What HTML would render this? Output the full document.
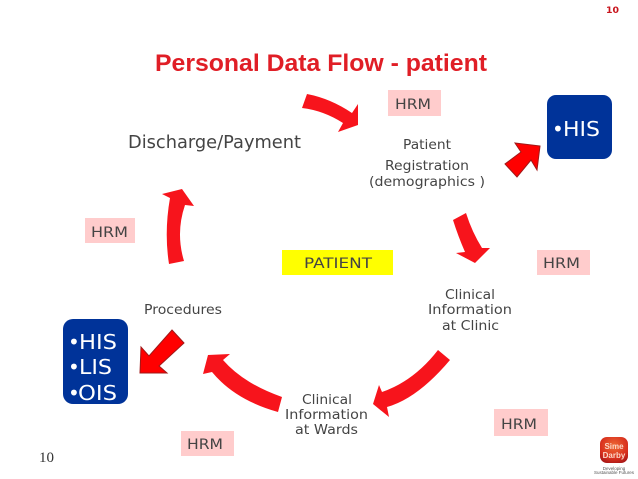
<!DOCTYPE html>
<html>
<head>
<meta charset="utf-8">
<style>
html,body{margin:0;padding:0;background:#fff;width:638px;height:479px;overflow:hidden}
svg{display:block}
.v{font-family:"DejaVu Sans","Liberation Sans",sans-serif;fill:#444}
.w{font-family:"DejaVu Sans","Liberation Sans",sans-serif;fill:#fff;font-size:20px}
.a{fill:#f7141c}
.d{fill:#f00;stroke:#a01818;stroke-width:1}
</style>
</head>
<body>
<svg width="638" height="479" viewBox="0 0 638 479" xmlns="http://www.w3.org/2000/svg">
<defs>
<radialGradient id="lg" cx="50%" cy="35%" r="70%"><stop offset="0" stop-color="#ee6a35"/><stop offset="0.7" stop-color="#d8301e"/><stop offset="1" stop-color="#a81818"/></radialGradient>
</defs>
<text x="606" y="13" font-family="'DejaVu Sans',sans-serif" font-weight="bold" font-size="9" fill="#c8141c" textLength="13" lengthAdjust="spacingAndGlyphs">10</text>
<text x="155" y="71" font-family="'Liberation Sans',sans-serif" font-weight="bold" font-size="24" fill="#e01e26" textLength="332" lengthAdjust="spacingAndGlyphs">Personal Data Flow - patient</text>

<path class="a" d="M307 94 Q330.5 98.5 352 113 L358 104 L358 125 L338 132 L343 123 Q323.5 110.5 302 108Z"/>
<path class="d" d="M540 146 L515 143 L521 152 L505 164 L517 177 L531 160 L537 170Z"/>
<path class="a" d="M453 220 L466 213 Q472 232 482 248 L490 248 L475 263 L456 253 L465 252 Q458 236 453 220Z"/>
<path class="a" d="M438 350 L450 360 Q417.5 398.5 387 407 L389 417 L373 404 L379 385 L382 392 Q414 381 438 350Z"/>
<path class="a" d="M282 397 L278 412 Q235 400 212 372 L203 374 L208 355 L230 354 L223 360 Q243.5 383.5 282 397Z"/>
<path class="d" d="M172 330 L184 343 L159 366 L167 373 L140 373 L141 347 L149 356Z"/>
<path class="a" d="M182 189 L194 206 L185 205 Q175.5 233 184 261 L169 264 Q164 232 170 198 L162 194Z"/>

<rect x="388" y="90" width="53" height="26" fill="#ffcccc"/>
<rect x="537" y="250" width="53" height="25" fill="#ffcccc"/>
<rect x="85" y="218" width="50" height="25" fill="#ffcccc"/>
<rect x="181" y="431" width="53" height="25" fill="#ffcccc"/>
<rect x="494" y="409" width="54" height="27" fill="#ffcccc"/>
<rect x="282" y="250" width="111" height="25" fill="#ffff00"/>

<text class="v" x="395" y="109" font-size="14" textLength="36" lengthAdjust="spacingAndGlyphs">HRM</text>
<text class="v" x="543" y="268" font-size="14" textLength="37" lengthAdjust="spacingAndGlyphs">HRM</text>
<text class="v" x="91" y="237" font-size="14" textLength="37" lengthAdjust="spacingAndGlyphs">HRM</text>
<text class="v" x="187" y="449" font-size="14" textLength="36" lengthAdjust="spacingAndGlyphs">HRM</text>
<text class="v" x="501" y="429" font-size="14" textLength="36" lengthAdjust="spacingAndGlyphs">HRM</text>
<text class="v" x="304" y="268" font-size="14" textLength="68" lengthAdjust="spacingAndGlyphs">PATIENT</text>

<text class="v" x="128" y="148" font-size="18" textLength="173" lengthAdjust="spacingAndGlyphs">Discharge/Payment</text>
<text class="v" x="403" y="149" font-size="13.5" textLength="48" lengthAdjust="spacingAndGlyphs">Patient</text>
<text class="v" x="385" y="170" font-size="13.5" textLength="84" lengthAdjust="spacingAndGlyphs">Registration</text>
<text class="v" x="369" y="186" font-size="13.5" textLength="116" lengthAdjust="spacingAndGlyphs">(demographics )</text>
<text class="v" x="445" y="299" font-size="13.5" textLength="50" lengthAdjust="spacingAndGlyphs">Clinical</text>
<text class="v" x="428" y="314" font-size="13.5" textLength="84" lengthAdjust="spacingAndGlyphs">Information</text>
<text class="v" x="442" y="330" font-size="13.5" textLength="57" lengthAdjust="spacingAndGlyphs">at Clinic</text>
<text class="v" x="302" y="404" font-size="13.5" textLength="50" lengthAdjust="spacingAndGlyphs">Clinical</text>
<text class="v" x="285" y="419" font-size="13.5" textLength="83" lengthAdjust="spacingAndGlyphs">Information</text>
<text class="v" x="295" y="434" font-size="13.5" textLength="63" lengthAdjust="spacingAndGlyphs">at Wards</text>
<text class="v" x="144" y="314" font-size="13.5" textLength="78" lengthAdjust="spacingAndGlyphs">Procedures</text>

<rect x="547" y="95" width="65" height="64" rx="9" fill="#003399"/>
<text class="w" x="552" y="136">•</text>
<text class="w" x="563" y="136" textLength="37" lengthAdjust="spacingAndGlyphs">HIS</text>
<rect x="63" y="319" width="65" height="85" rx="10" fill="#003399"/>
<text class="w" x="68" y="349">•</text>
<text class="w" x="79" y="349" textLength="38" lengthAdjust="spacingAndGlyphs">HIS</text>
<text class="w" x="68" y="374">•</text>
<text class="w" x="79" y="374" textLength="33" lengthAdjust="spacingAndGlyphs">LIS</text>
<text class="w" x="68" y="400">•</text>
<text class="w" x="78" y="400" textLength="39" lengthAdjust="spacingAndGlyphs">OIS</text>

<text x="39" y="462" font-family="'Liberation Serif',serif" font-size="15" fill="#333" textLength="15" lengthAdjust="spacingAndGlyphs">10</text>

<rect x="600" y="437" width="28" height="26" rx="7" fill="url(#lg)"/>
<text x="614" y="449" text-anchor="middle" font-family="'Liberation Sans',sans-serif" font-weight="bold" font-size="8" fill="#fbd8c8">Sime</text>
<text x="614" y="458" text-anchor="middle" font-family="'Liberation Sans',sans-serif" font-weight="bold" font-size="8" fill="#fbd8c8">Darby</text>
<text x="614" y="470" text-anchor="middle" font-family="'Liberation Sans',sans-serif" font-size="4.5" fill="#555">Developing</text>
<text x="614" y="474" text-anchor="middle" font-family="'Liberation Sans',sans-serif" font-size="4.5" fill="#555">Sustainable Futures</text>
</svg>
</body>
</html>
